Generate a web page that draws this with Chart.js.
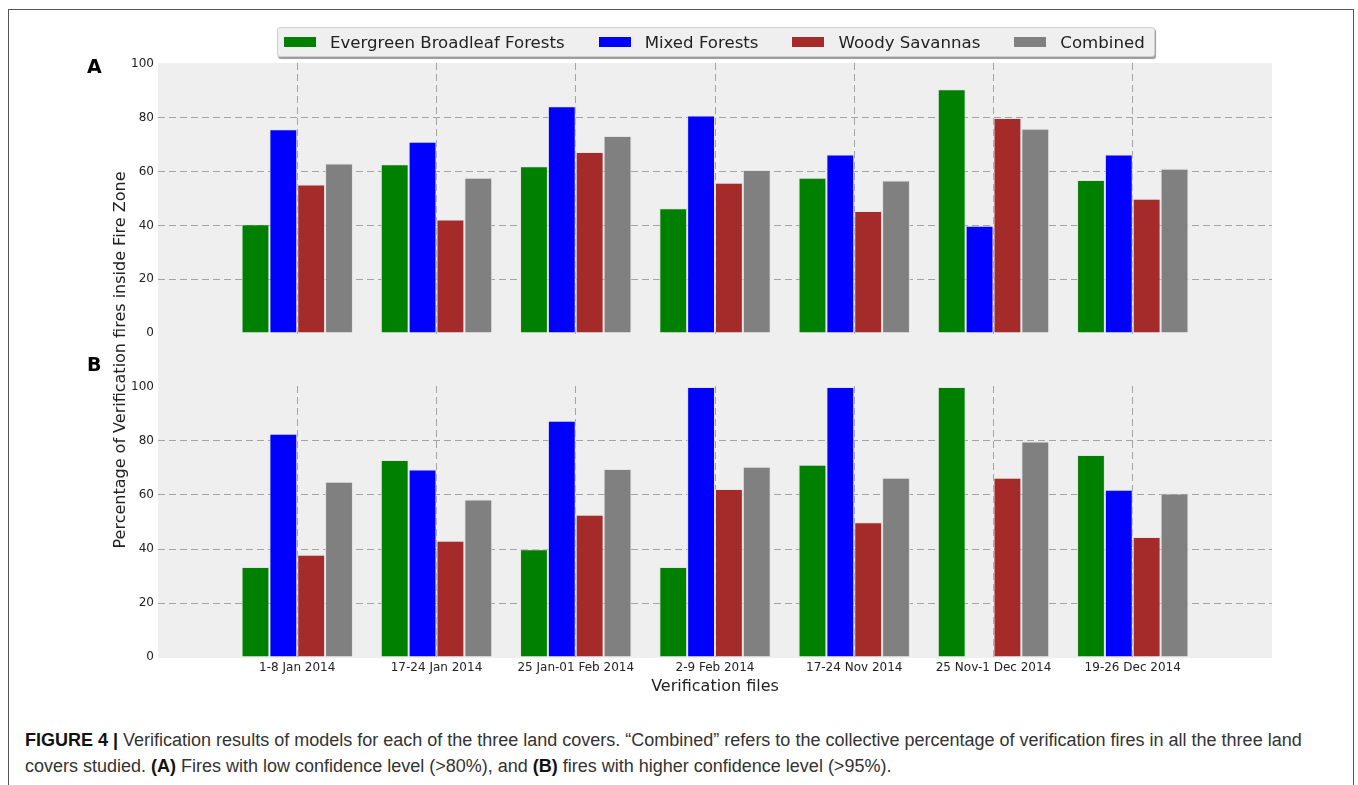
<!DOCTYPE html>
<html>
<head>
<meta charset="utf-8">
<script src="https://cdn.jsdelivr.net/npm/chart.js@4.4.1/dist/chart.umd.min.js"></script>
<style>
  body { margin: 0; width: 1358px; height: 785px; position: relative; overflow: hidden; background: #fff; font-family: "DejaVu Sans", sans-serif; }
  #frame { position: absolute; left: 8px; top: 9px; width: 1346px; height: 800px; border: 1px solid #555; box-sizing: border-box; }
  #plotbg { position: absolute; left: 158px; top: 63px; width: 1114px; height: 595px; background: #efefef; }
  canvas { position: absolute; left: 0; }
  #chartA { top: 0; }
  #chartB { top: 340px; }
  .panel { position: absolute; left: 87px; font: bold 19px "DejaVu Sans", sans-serif; color: #000; }
  #ytitle { position: absolute; left: 119px; top: 360px; transform: translate(-50%, -50%) rotate(-90deg); white-space: nowrap; font-size: 16px; color: #222; }
  #legend { position: absolute; left: 277px; top: 27px; width: 878px; height: 30px; box-sizing: border-box; background: #efefef; border: 1px solid #cfcfcf; border-radius: 3px; box-shadow: 1px 2px 1px #9a9a9a; display: flex; align-items: center; padding-left: 6px; }
  .item { display: flex; align-items: center; margin-right: 34px; font-size: 16.6px; color: #222; white-space: nowrap; flex-shrink: 0; }
  .sw { width: 32px; height: 10px; margin-right: 14px; }
  #caption { position: absolute; left: 25px; top: 727px; font-family: "Liberation Sans", Arial, sans-serif; font-size: 18px; line-height: 26px; color: #333; white-space: nowrap; }
  #caption b { color: #111; }
</style>
</head>
<body>
<div id="frame"></div>
<div id="plotbg"></div>
<canvas id="chartA" width="1358" height="352"></canvas>
<canvas id="chartB" width="1358" height="360"></canvas>
<div class="panel" style="top:55px">A</div>
<div class="panel" style="top:353px">B</div>
<div id="ytitle">Percentage of Verification fires inside Fire Zone</div>
<div id="legend"></div>
<div id="caption"><b>FIGURE 4 |</b> Verification results of models for each of the three land covers. “Combined” refers to the collective percentage of verification fires in all the three land<br>covers studied. <b>(A)</b> Fires with low confidence level (&gt;80%), and <b>(B)</b> fires with higher confidence level (&gt;95%).</div>
<script>
const categories = ['1-8 Jan 2014', '17-24 Jan 2014', '25 Jan-01 Feb 2014', '2-9 Feb 2014', '17-24 Nov 2014', '25 Nov-1 Dec 2014', '19-26 Dec 2014'];
const seriesNames = ['Evergreen Broadleaf Forests', 'Mixed Forests', 'Woody Savannas', 'Combined'];
const seriesColors = ['#008000', '#0000ff', '#a52a2a', '#808080'];

// panel A: low confidence (>80%)
const lowEvergreen = [40.4, 62.7, 62.0, 46.4, 57.7, 90.6, 56.9];
const lowMixed     = [75.7, 71.1, 84.3, 80.9, 66.4, 39.9, 66.4];
const lowSavanna   = [55.2, 42.2, 67.3, 55.9, 45.4, 79.9, 49.9];
const lowCombined  = [63.0, 57.7, 73.2, 60.6, 56.7, 75.9, 61.1];

// panel B: higher confidence (>95%)
const highEvergreen = [33.3, 73.0, 39.9, 33.3, 71.2, 100, 74.8];
const highMixed     = [82.7, 69.4, 87.5, 100, 100, 0, 61.9];
const highSavanna   = [37.9, 43.1, 52.7, 62.2, 49.9, 66.4, 44.4];
const highCombined  = [64.9, 58.3, 69.6, 70.5, 66.4, 79.8, 60.6];

const yTicks = [0, 20, 40, 60, 80, 100];

// legend
const legend = document.getElementById('legend');
seriesNames.forEach((name, i) => {
  const it = document.createElement('div');
  it.className = 'item';
  it.innerHTML = '<span class="sw" style="background:' + seriesColors[i] + '"></span>' + name;
  legend.appendChild(it);
});

const gridColor = '#a3a3a3';

function makeChart(id, series, opts) {
  return new Chart(document.getElementById(id), {
    type: 'bar',
    data: {
      datasets: series.map((vals, i) => ({
        label: seriesNames[i],
        data: vals.map((v, j) => ({ x: j, y: v })),
        backgroundColor: seriesColors[i],
        borderColor: 'rgba(225,225,225,0.85)',
        borderWidth: 1,
        categoryPercentage: 0.8,
        barPercentage: 1.0
      }))
    },
    options: {
      responsive: false,
      animation: false,
      layout: { padding: { left: 0, right: 86, top: opts.top, bottom: 0 } },
      plugins: { legend: { display: false }, tooltip: { enabled: false } },
      scales: {
        x: {
          type: 'linear', min: -1, max: 7, offset: false,
          afterBuildTicks: s => { s.ticks = categories.map((c, i) => ({ value: i })); },
          afterFit: s => { s.height = opts.xh; },
          grid: { color: gridColor, lineWidth: 1, drawTicks: false, offset: false },
          border: { display: false, dash: [7, 4] },
          ticks: {
            display: opts.showX, autoSkip: false, maxRotation: 0, padding: 3,
            color: '#222', font: { family: 'DejaVu Sans', size: 12 },
            callback: v => categories[v]
          },
          title: {
            display: opts.showX, text: 'Verification files', color: '#222',
            font: { family: 'DejaVu Sans', size: 16 }, padding: { top: 0, bottom: 4 }
          }
        },
        y: {
          min: opts.ymin, max: opts.ymax,
          afterBuildTicks: s => { s.ticks = yTicks.map(v => ({ value: v })); },
          afterFit: s => { s.width = 158; },
          grid: {
            drawTicks: false, lineWidth: 1,
            color: c => (c.tick && (c.tick.value === 0 || c.tick.value === 100)) ? 'rgba(0,0,0,0)' : gridColor
          },
          border: { display: false, dash: [7, 4] },
          ticks: { color: '#222', padding: 4, font: { family: 'DejaVu Sans', size: 12 } }
        }
      }
    }
  });
}

makeChart('chartA', [lowEvergreen, lowMixed, lowSavanna, lowCombined],
  { top: 63, xh: 16, ymin: -1.1, ymax: 100.37, showX: false });
makeChart('chartB', [highEvergreen, highMixed, highSavanna, highCombined],
  { top: 46, xh: 42, ymin: -0.37, ymax: 100.37, showX: true });
</script>
</body>
</html>
